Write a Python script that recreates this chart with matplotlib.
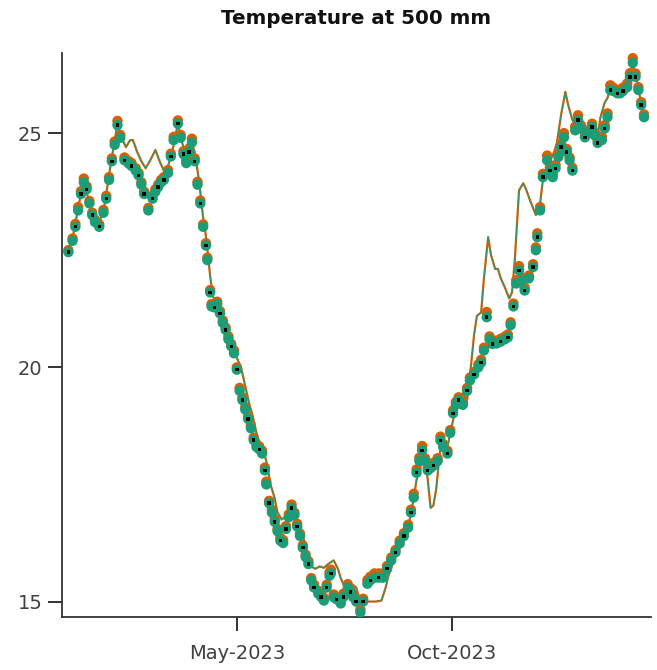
import matplotlib
matplotlib.use("Agg")
import matplotlib.pyplot as plt
import matplotlib.dates as mdates
import numpy as np
import pandas as pd

# Day offsets from 1 Jan 2023 for the sensor-series points
days = [0, 3, 5, 7, 9, 11, 13, 15, 17, 19, 22, 25, 27, 29, 31, 33, 35, 37, 40, 43,
        45, 48, 50, 52, 54, 57, 60, 62, 64, 66, 68, 71, 73, 75, 78, 80, 82, 84, 86, 88,
        90, 92, 94, 96, 98, 99, 101, 102, 104, 106, 108, 110, 112, 114, 116, 118, 120, 122, 124, 126,
        128, 130, 132, 134, 136, 138, 140, 141, 143, 145, 147, 149, 151, 153, 155, 157, 159, 161, 163, 165,
        167, 169, 171, 173, 175, 178, 180, 182, 184, 186, 187, 189, 191, 194, 196, 199, 201, 203, 205, 208,
        210, 213, 215, 218, 221, 224, 227, 230, 233, 236, 239, 242, 244, 246, 248, 250, 252, 254, 256, 258,
        260, 263, 265, 267, 270, 272, 274, 276, 278, 281, 284, 286, 289, 292, 294, 296, 298, 300, 302, 305,
        308, 311, 313, 315, 317, 319, 321, 323, 325, 328, 331, 333, 334, 336, 338, 341, 343, 345, 347, 349,
        351, 353, 355, 357, 359, 361, 363, 365, 368, 371, 373, 375, 377, 380, 382, 384, 386, 388, 391, 393,
        395, 398, 400, 402, 404, 406, 408, 410]

temp_green = [22.46, 22.70, 23.00, 23.35, 23.70, 23.95, 23.80, 23.50, 23.25, 23.10, 23.00, 23.30, 23.60, 24.00, 24.40, 24.75, 25.17, 24.90, 24.42, 24.35,
              24.30, 24.20, 24.10, 23.90, 23.70, 23.35, 23.60, 23.75, 23.85, 23.95, 24.00, 24.15, 24.50, 24.85, 25.20, 24.90, 24.55, 24.36, 24.60, 24.80,
              24.40, 23.90, 23.50, 23.00, 22.60, 22.29, 21.60, 21.30, 21.28, 21.35, 21.15, 20.95, 20.80, 20.60, 20.45, 20.30, 19.95, 19.50, 19.30, 19.10,
              18.90, 18.70, 18.45, 18.30, 18.25, 18.16, 17.80, 17.50, 17.10, 16.90, 16.70, 16.50, 16.30, 16.25, 16.55, 16.80, 17.00, 16.85, 16.60, 16.40,
              16.15, 15.95, 15.80, 15.45, 15.30, 15.17, 15.10, 15.02, 15.30, 15.55, 15.60, 15.09, 15.05, 14.96, 15.10, 15.30, 15.20, 15.09, 15.00, 14.77,
              15.00, 15.38, 15.45, 15.51, 15.51, 15.51, 15.70, 15.88, 16.05, 16.24, 16.40, 16.58, 16.90, 17.22, 17.75, 18.00, 18.23, 18.00, 17.80, 17.85,
              17.90, 18.00, 18.44, 18.30, 18.16, 18.60, 19.02, 19.20, 19.30, 19.20, 19.50, 19.72, 19.85, 20.00, 20.10, 20.36, 21.07, 20.60, 20.50, 20.51,
              20.55, 20.60, 20.64, 20.90, 21.30, 21.79, 22.07, 21.85, 21.64, 21.90, 22.14, 22.50, 22.78, 23.35, 24.06, 24.42, 24.20, 24.06, 24.25, 24.49,
              24.70, 24.91, 24.60, 24.42, 24.20, 25.06, 25.28, 25.10, 24.91, 25.00, 25.13, 24.95, 24.79, 24.85, 25.10, 25.34, 25.92, 25.90, 25.85, 25.85,
              25.90, 25.98, 26.20, 26.50, 26.20, 25.92, 25.60, 25.34]

temp_orange = [22.50, 22.75, 23.06, 23.42, 23.76, 24.03, 23.86, 23.55, 23.30, 23.15, 23.05, 23.36, 23.66, 24.06, 24.46, 24.82, 25.26, 24.96, 24.48, 24.40,
               24.36, 24.25, 24.15, 23.95, 23.75, 23.40, 23.66, 23.80, 23.90, 24.00, 24.06, 24.21, 24.56, 24.92, 25.27, 24.96, 24.61, 24.42, 24.67, 24.88,
               24.46, 23.96, 23.56, 23.05, 22.65, 22.34, 21.65, 21.35, 21.33, 21.40, 21.20, 21.00, 20.85, 20.66, 20.50, 20.36, 20.00, 19.56, 19.36, 19.15,
               18.95, 18.76, 18.50, 18.36, 18.31, 18.22, 17.86, 17.56, 17.15, 16.96, 16.76, 16.55, 16.36, 16.31, 16.61, 16.86, 17.07, 16.90, 16.66, 16.45,
               16.20, 16.00, 15.86, 15.50, 15.36, 15.23, 15.16, 15.08, 15.36, 15.62, 15.68, 15.15, 15.10, 15.02, 15.17, 15.37, 15.26, 15.15, 15.06, 14.83,
               15.06, 15.46, 15.53, 15.60, 15.60, 15.60, 15.76, 15.94, 16.10, 16.30, 16.46, 16.64, 16.96, 17.30, 17.82, 18.07, 18.32, 18.06, 17.86, 17.90,
               17.96, 18.06, 18.52, 18.36, 18.22, 18.66, 19.08, 19.26, 19.36, 19.26, 19.56, 19.78, 19.90, 20.06, 20.16, 20.42, 21.18, 20.66, 20.56, 20.57,
               20.61, 20.66, 20.70, 20.96, 21.36, 21.86, 22.16, 21.91, 21.70, 21.96, 22.20, 22.56, 22.86, 23.42, 24.13, 24.52, 24.27, 24.12, 24.32, 24.57,
               24.77, 25.00, 24.66, 24.48, 24.26, 25.14, 25.38, 25.17, 24.98, 25.07, 25.20, 25.01, 24.85, 24.92, 25.17, 25.42, 26.02, 25.97, 25.92, 25.92,
               25.97, 26.06, 26.28, 26.60, 26.27, 25.98, 25.66, 25.40]

# Model run, drawn as a continuous line
line_days = [0, 3, 7, 11, 15, 19, 22, 26, 30, 35, 38, 41, 44, 46, 49, 52, 55, 58, 62, 65,
             68, 71, 74, 78, 81, 84, 87, 90, 93, 96, 98, 101, 103, 105, 108, 111, 114, 117, 120, 123,
             126, 129, 131, 134, 136, 139, 141, 144, 147, 149, 152, 154, 157, 159, 162, 165, 167, 169, 171, 174,
             176, 179, 182, 185, 189, 192, 194, 197, 200, 203, 205, 207, 210, 212, 216, 219, 223, 226, 228, 231,
             234, 237, 240, 242, 244, 246, 248, 250, 252, 254, 256, 258, 260, 262, 263, 265, 268, 270, 272, 275,
             278, 281, 284, 286, 289, 291, 294, 296, 299, 301, 304, 306, 308, 311, 314, 316, 318, 321, 324, 326,
             329, 333, 336, 338, 340, 343, 346, 348, 351, 354, 356, 359, 361, 363, 366, 368, 371, 373, 375, 377,
             379, 382, 384, 386, 391, 395, 398, 402, 406, 410]

line_temp = [22.50, 22.75, 23.40, 24.00, 23.50, 23.10, 23.05, 23.50, 24.30, 25.20, 24.90, 24.70, 24.85, 24.85, 24.60, 24.40, 24.25, 24.40, 24.64, 24.40,
             24.20, 24.30, 24.60, 25.20, 24.80, 24.50, 24.85, 24.60, 24.00, 23.20, 22.80, 21.95, 21.50, 21.45, 21.30, 21.00, 20.70, 20.45, 20.20, 20.00,
             19.60, 19.20, 19.00, 18.60, 18.40, 18.20, 18.00, 17.50, 17.20, 16.90, 16.75, 16.80, 17.00, 16.95, 16.80, 16.60, 16.40, 16.20, 15.90, 15.73,
             15.70, 15.75, 15.72, 15.80, 15.88, 15.70, 15.50, 15.30, 15.20, 15.35, 15.30, 15.10, 15.05, 15.00, 15.00, 15.00, 15.02, 15.30, 15.55, 15.80,
             16.05, 16.20, 16.40, 16.55, 16.90, 17.20, 17.60, 17.80, 18.00, 18.10, 17.60, 17.00, 17.05, 17.40, 17.70, 18.30, 18.35, 18.30, 18.60, 19.00,
             19.30, 19.45, 19.30, 19.80, 20.70, 21.10, 21.17, 21.90, 22.78, 22.40, 22.10, 22.10, 21.90, 21.70, 21.47, 21.60, 22.30, 23.78, 23.93, 23.80,
             23.55, 23.25, 23.50, 24.00, 24.20, 24.40, 24.60, 24.80, 25.40, 25.88, 25.60, 25.28, 25.20, 25.20, 25.00, 25.00, 25.10, 25.15, 25.00, 24.95,
             25.34, 25.65, 25.75, 25.95, 25.90, 25.92, 26.00, 26.50, 25.95, 25.35]

ytick_values = [15, 20, 25]
xtick_labels_dates = ["2023-05-01", "2023-10-01"]

start = pd.Timestamp("2023-01-01")
dates = start + pd.to_timedelta(days, unit="D")
line_dates = start + pd.to_timedelta(line_days, unit="D")

GREEN = "#1b9e77"
ORANGE = "#d95f02"

fig = plt.figure(figsize=(6.57, 6.70), dpi=100)
ax = fig.add_axes([0.0944, 0.0784, 0.8965, 0.8425])

ax.plot(line_dates, line_temp, color=ORANGE, lw=1.6, zorder=1)
ax.plot(line_dates, line_temp, color=GREEN, lw=0.7, zorder=1.1)

ax.scatter(dates, temp_orange, s=56, color=ORANGE, edgecolors="none", zorder=2)
ax.scatter(dates, temp_green, s=56, color=GREEN, edgecolors="none", zorder=3)
ax.scatter(dates[::2], np.asarray(temp_green)[::2], s=6, marker="s",
           color="black", edgecolors="none", zorder=4)

ax.set_xlim(start - pd.Timedelta(days=4.5), start + pd.Timedelta(days=415))
ax.set_ylim(14.66, 26.71)
ax.set_yticks(ytick_values)
ax.set_xticks(pd.to_datetime(xtick_labels_dates))
ax.xaxis.set_major_formatter(mdates.DateFormatter("%b-%Y"))

for side in ("top", "right"):
    ax.spines[side].set_visible(False)
for side in ("left", "bottom"):
    ax.spines[side].set_color("#333333")
    ax.spines[side].set_linewidth(1.3)

ax.tick_params(axis="both", direction="out", length=10, width=1.3,
               color="#222222", labelcolor="#404040", labelsize=14)
ax.tick_params(axis="x", pad=9)
ax.tick_params(axis="y", pad=4)

ax.set_title("Temperature at 500 mm", fontsize=14.3, fontweight="bold",
             color="#111111", pad=21)

fig.savefig("out.png", dpi=100)
